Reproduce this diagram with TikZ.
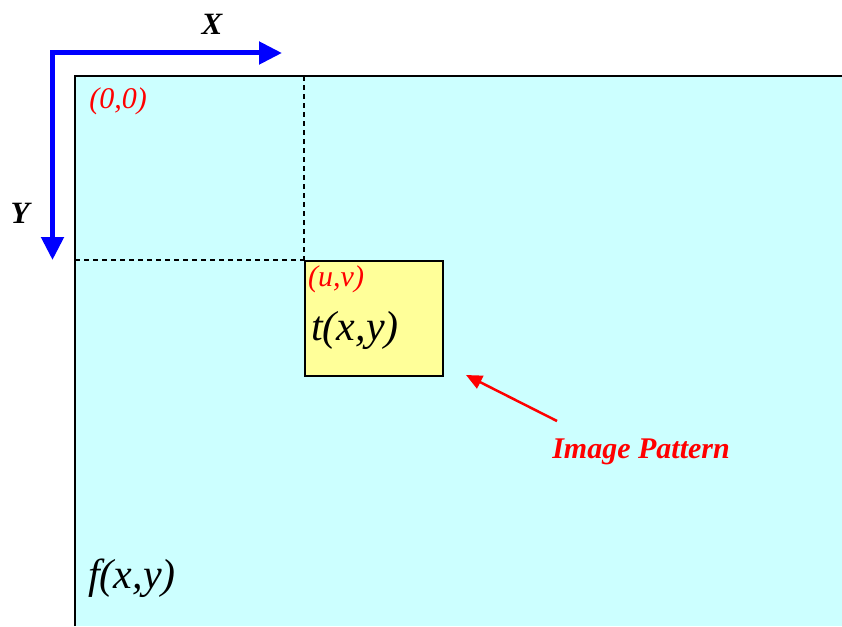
\documentclass[tikz,border=0pt]{standalone}
\usepackage{fontspec}
\setmainfont{Liberation Serif}
\usetikzlibrary{arrows.meta}
\definecolor{imgcyan}{HTML}{CCFFFF}
\definecolor{patyellow}{HTML}{FFFF99}
\definecolor{axisblue}{HTML}{0000FF}
\definecolor{lblred}{HTML}{FF0000}
\begin{document}
\begin{tikzpicture}[x=1pt,y=-1pt,
  axis/.style={draw=axisblue,line width=5pt,line join=miter,{Triangle[length=23pt,width=22pt]}-{Triangle[length=23pt,width=22pt]}},
  guide/.style={draw=black,line width=1.3pt,dash pattern=on 5pt off 4pt},
  redlbl/.style={text=lblred,font=\itshape\fontsize{30}{34}\selectfont,inner sep=0pt},
  funlbl/.style={font=\itshape\fontsize{42}{48}\selectfont,inner sep=0pt},
  axlbl/.style={font=\bfseries\itshape\fontsize{31}{36}\selectfont,inner sep=0pt}]
\useasboundingbox (0,0) rectangle (842,626);
% image region
\coordinate (tl) at (75,76);
\coordinate (tr) at (842,76);
\coordinate (bl) at (75,626);
\fill[imgcyan] (tl) rectangle (842,626);
\draw[line width=2pt] (bl) -- (tl) -- (tr);
% pattern box
\node[draw=black,line width=1.5pt,fill=patyellow,minimum width=138pt,minimum height=115pt,anchor=north west,inner sep=0pt] (pat) at (304,260) {};
\coordinate (topx) at (304,76);
\coordinate (leftx) at (75,260);
\draw[guide] (topx) -- (pat.north west);
\draw[guide] (leftx) -- (pat.north west);
% axes
\coordinate (o) at (52.5,53);
\coordinate (xe) at (282,53);
\coordinate (ye) at (52.5,260);
\draw[axis] (ye) -- (o) -- (xe);
\node[axlbl] (X) at (212,24) {X};
\node[axlbl] (Y) at (20,213) {Y};
% labels
\node[redlbl] (orig) at (118,101) {(0,0)};
\node[redlbl,anchor=north west] (uv) at (308,265) {(u,v)};
\node[funlbl] (t) at (355,330) {t(x,y)};
\node[funlbl] (f) at (132,578) {f(x,y)};
\node[text=lblred,font=\bfseries\itshape\fontsize{30}{34}\selectfont,inner sep=0pt] (ip) at (641,452) {Image Pattern};
\coordinate (arrtail) at (557,421);
\coordinate (arrtip) at (466,375);
\draw[lblred,line width=2.5pt,-{Triangle[length=16pt,width=14pt]}] (arrtail) -- (arrtip);
\end{tikzpicture}
\end{document}
